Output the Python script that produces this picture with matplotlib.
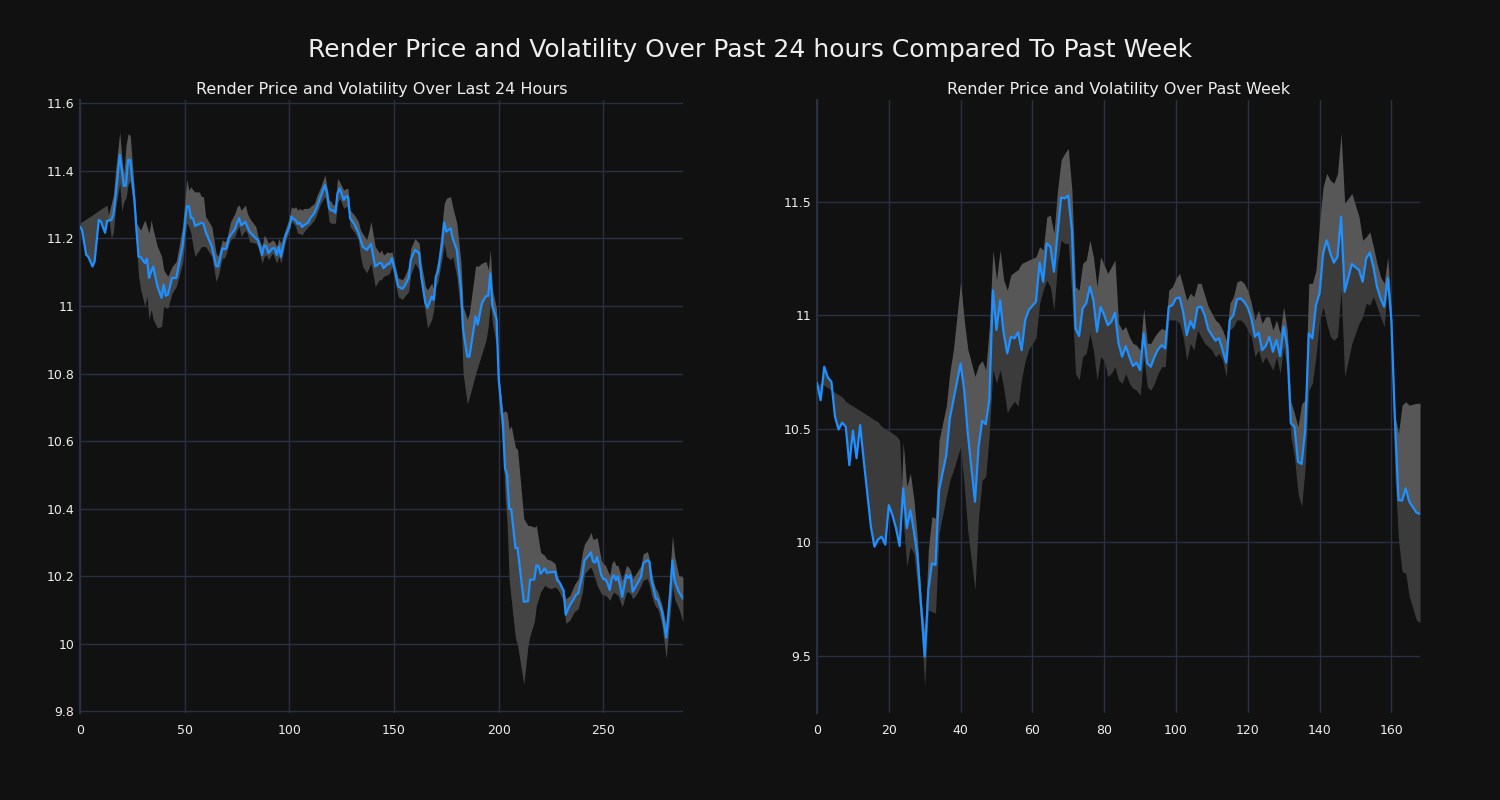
import matplotlib
matplotlib.use("Agg")
import matplotlib.pyplot as plt

# ---------------- Data: last 24 hours (5-minute steps) ----------------
day_x = [0, 1, 3, 4, 6, 7, 9, 10, 12, 13, 15, 16, 17, 19, 20, 21, 22, 23, 24, 26,
         27, 28, 29, 31, 32, 33, 34, 35, 37, 39, 40, 41, 42, 44, 46, 49, 51, 52, 53, 54,
         55, 57, 58, 59, 60, 63, 65, 66, 68, 69, 70, 71, 72, 74, 75, 76, 77, 79, 80, 81,
         84, 85, 87, 88, 89, 90, 92, 93, 94, 95, 96, 98, 100, 101, 102, 103, 104, 105, 106, 107,
         109, 110, 112, 113, 115, 117, 118, 119, 120, 121, 122, 123, 124, 126, 127, 128, 129, 131, 133, 134,
         135, 137, 139, 141, 143, 144, 145, 147, 148, 149, 151, 152, 154, 155, 157, 158, 160, 162, 163, 165,
         166, 168, 169, 170, 171, 173, 174, 175, 177, 178, 180, 182, 183, 185, 186, 189, 190, 192, 194, 195,
         196, 197, 199, 200, 202, 203, 204, 205, 206, 208, 209, 212, 214, 215, 217, 218, 219, 220, 222, 223,
         225, 227, 228, 229, 231, 232, 234, 236, 237, 238, 240, 241, 243, 244, 245, 246, 247, 249, 250, 251,
         252, 253, 254, 255, 256, 257, 259, 261, 262, 263, 264, 266, 268, 269, 271, 272, 273, 274, 275, 276,
         278, 280, 282, 283, 284, 286, 288]
day_price = [11.235, 11.225, 11.151, 11.146, 11.117, 11.132, 11.255, 11.250, 11.217, 11.252, 11.255, 11.270, 11.324, 11.447, 11.400, 11.355, 11.357, 11.432, 11.432, 11.314,
             11.225, 11.146, 11.145, 11.127, 11.140, 11.083, 11.102, 11.117, 11.058, 11.024, 11.063, 11.030, 11.034, 11.083, 11.083, 11.176, 11.294, 11.296, 11.260, 11.260,
             11.237, 11.243, 11.247, 11.243, 11.220, 11.176, 11.119, 11.117, 11.171, 11.168, 11.171, 11.200, 11.210, 11.227, 11.245, 11.260, 11.239, 11.249, 11.234, 11.220,
             11.200, 11.195, 11.151, 11.180, 11.176, 11.156, 11.171, 11.171, 11.151, 11.176, 11.146, 11.205, 11.234, 11.265, 11.257, 11.255, 11.243, 11.247, 11.234, 11.239,
             11.247, 11.260, 11.275, 11.290, 11.324, 11.358, 11.334, 11.290, 11.283, 11.283, 11.276, 11.334, 11.348, 11.314, 11.324, 11.324, 11.260, 11.243, 11.217, 11.196,
             11.176, 11.166, 11.184, 11.117, 11.127, 11.127, 11.112, 11.125, 11.125, 11.142, 11.088, 11.058, 11.051, 11.058, 11.083, 11.137, 11.166, 11.156, 11.088, 11.009,
             10.995, 11.028, 11.018, 11.088, 11.103, 11.186, 11.247, 11.220, 11.230, 11.200, 11.166, 11.048, 10.930, 10.850, 10.850, 10.969, 10.945, 11.009, 11.030, 11.030,
             11.097, 11.000, 10.960, 10.783, 10.655, 10.520, 10.500, 10.399, 10.398, 10.283, 10.284, 10.124, 10.126, 10.190, 10.190, 10.232, 10.230, 10.207, 10.223, 10.210,
             10.212, 10.213, 10.187, 10.182, 10.157, 10.086, 10.114, 10.134, 10.146, 10.149, 10.203, 10.247, 10.261, 10.271, 10.244, 10.240, 10.257, 10.203, 10.191, 10.191,
             10.179, 10.159, 10.193, 10.203, 10.188, 10.200, 10.139, 10.203, 10.195, 10.203, 10.154, 10.176, 10.198, 10.238, 10.247, 10.243, 10.185, 10.163, 10.134, 10.131,
             10.095, 10.018, 10.154, 10.247, 10.188, 10.154, 10.134]
day_upper = [11.235, 11.225, 11.151, 11.146, 11.117, 11.132, 11.255, 11.250, 11.217, 11.252, 11.304, 11.330, 11.400, 11.515, 11.440, 11.390, 11.476, 11.510, 11.505, 11.343,
             11.245, 11.235, 11.225, 11.255, 11.235, 11.215, 11.255, 11.225, 11.176, 11.147, 11.107, 11.097, 11.088, 11.117, 11.132, 11.235, 11.375, 11.343, 11.353, 11.343,
             11.338, 11.338, 11.324, 11.324, 11.265, 11.235, 11.157, 11.147, 11.196, 11.190, 11.196, 11.225, 11.250, 11.274, 11.294, 11.299, 11.284, 11.299, 11.274, 11.260,
             11.235, 11.206, 11.176, 11.210, 11.200, 11.186, 11.196, 11.190, 11.176, 11.200, 11.186, 11.225, 11.260, 11.294, 11.289, 11.294, 11.284, 11.289, 11.284, 11.289,
             11.289, 11.294, 11.304, 11.324, 11.353, 11.388, 11.353, 11.314, 11.309, 11.299, 11.299, 11.378, 11.368, 11.343, 11.348, 11.348, 11.284, 11.270, 11.250, 11.225,
             11.215, 11.196, 11.250, 11.176, 11.157, 11.166, 11.151, 11.161, 11.157, 11.161, 11.107, 11.083, 11.078, 11.088, 11.117, 11.171, 11.200, 11.186, 11.127, 11.058,
             11.048, 11.068, 11.048, 11.107, 11.137, 11.245, 11.304, 11.319, 11.324, 11.294, 11.245, 11.127, 10.999, 10.960, 10.980, 11.120, 11.117, 11.127, 11.132, 11.107,
             11.166, 11.048, 10.990, 10.800, 10.684, 10.690, 10.684, 10.635, 10.645, 10.581, 10.576, 10.370, 10.350, 10.350, 10.345, 10.350, 10.310, 10.271, 10.261, 10.251,
             10.247, 10.237, 10.202, 10.187, 10.163, 10.133, 10.143, 10.173, 10.183, 10.193, 10.271, 10.296, 10.315, 10.330, 10.310, 10.310, 10.315, 10.247, 10.237, 10.232,
             10.217, 10.202, 10.237, 10.247, 10.232, 10.232, 10.187, 10.232, 10.227, 10.217, 10.193, 10.212, 10.232, 10.266, 10.273, 10.251, 10.212, 10.183, 10.163, 10.153,
             10.114, 10.055, 10.232, 10.320, 10.261, 10.202, 10.197]
day_lower = [11.245, 11.250, 11.258, 11.262, 11.270, 11.274, 11.283, 11.287, 11.295, 11.298, 11.200, 11.220, 11.290, 11.363, 11.280, 11.310, 11.320, 11.360, 11.370, 11.280,
             11.176, 11.088, 11.048, 10.999, 11.030, 10.960, 10.990, 10.960, 10.935, 10.940, 11.000, 10.994, 10.994, 11.038, 11.058, 11.127, 11.245, 11.235, 11.215, 11.176,
             11.147, 11.166, 11.176, 11.176, 11.176, 11.147, 11.073, 11.088, 11.142, 11.142, 11.157, 11.181, 11.196, 11.206, 11.225, 11.235, 11.206, 11.225, 11.215, 11.190,
             11.186, 11.176, 11.127, 11.147, 11.151, 11.137, 11.157, 11.142, 11.127, 11.147, 11.127, 11.186, 11.225, 11.250, 11.245, 11.235, 11.215, 11.215, 11.210, 11.220,
             11.235, 11.240, 11.255, 11.270, 11.304, 11.324, 11.299, 11.250, 11.245, 11.245, 11.245, 11.304, 11.319, 11.289, 11.294, 11.294, 11.235, 11.220, 11.196, 11.147,
             11.117, 11.098, 11.127, 11.058, 11.078, 11.078, 11.088, 11.093, 11.098, 11.117, 11.058, 11.028, 11.019, 11.028, 11.043, 11.093, 11.127, 11.107, 11.058, 10.980,
             10.935, 10.960, 10.990, 11.058, 11.073, 11.142, 11.186, 11.147, 11.137, 11.147, 11.088, 10.970, 10.800, 10.710, 10.730, 10.800, 10.820, 10.860, 10.900, 10.940,
             11.009, 10.950, 10.880, 10.720, 10.586, 10.440, 10.360, 10.190, 10.130, 10.016, 9.996, 9.880, 9.996, 10.025, 10.065, 10.114, 10.133, 10.153, 10.173, 10.168,
             10.163, 10.168, 10.163, 10.153, 10.124, 10.060, 10.070, 10.094, 10.099, 10.104, 10.153, 10.207, 10.222, 10.227, 10.212, 10.193, 10.173, 10.148, 10.145, 10.143,
             10.138, 10.128, 10.143, 10.153, 10.148, 10.143, 10.109, 10.153, 10.153, 10.148, 10.133, 10.148, 10.173, 10.188, 10.193, 10.173, 10.143, 10.124, 10.109, 10.104,
             10.055, 9.956, 10.094, 10.173, 10.133, 10.104, 10.065]

# ---------------- Data: past week (hourly steps) ----------------
week_x = [0, 1, 2, 3, 4, 5, 6, 7, 8, 9, 10, 11, 12, 13, 15, 16, 17, 18, 19, 20,
          21, 22, 23, 24, 25, 26, 27, 28, 29, 30, 31, 32, 33, 34, 36, 37, 38, 40, 41, 42,
          44, 45, 46, 47, 48, 49, 50, 51, 52, 53, 54, 55, 56, 57, 58, 59, 61, 62, 63, 64,
          65, 66, 67, 68, 69, 70, 71, 72, 73, 74, 75, 76, 77, 78, 79, 80, 81, 82, 83, 84,
          85, 86, 87, 88, 89, 90, 91, 92, 93, 94, 95, 96, 97, 98, 99, 100, 101, 102, 103, 104,
          105, 106, 107, 108, 109, 110, 111, 112, 113, 114, 115, 116, 117, 118, 119, 120, 121, 122, 123, 124,
          125, 126, 127, 128, 129, 130, 131, 132, 133, 134, 135, 136, 137, 138, 139, 140, 141, 142, 143, 144,
          145, 146, 147, 149, 151, 152, 153, 154, 155, 156, 157, 158, 159, 160, 161, 162, 163, 164, 165, 167,
          168]
week_price = [10.700, 10.626, 10.773, 10.726, 10.707, 10.553, 10.497, 10.527, 10.509, 10.340, 10.492, 10.370, 10.516, 10.362, 10.069, 9.981, 10.013, 10.025, 9.990, 10.164,
              10.120, 10.062, 9.984, 10.238, 10.062, 10.142, 10.047, 9.937, 9.717, 9.497, 9.790, 9.908, 9.900, 10.230, 10.384, 10.546, 10.627, 10.788, 10.670, 10.480,
              10.179, 10.420, 10.535, 10.520, 10.627, 11.110, 10.935, 11.066, 10.920, 10.832, 10.905, 10.898, 10.924, 10.846, 10.979, 11.023, 11.059, 11.231, 11.147, 11.316,
              11.301, 11.191, 11.360, 11.518, 11.514, 11.526, 11.374, 10.942, 10.908, 11.030, 11.052, 11.125, 11.066, 10.927, 11.037, 11.000, 10.956, 10.971, 11.011, 10.876,
              10.817, 10.864, 10.817, 10.776, 10.791, 10.758, 10.920, 10.788, 10.773, 10.817, 10.849, 10.868, 10.854, 11.037, 11.044, 11.074, 11.078, 11.015, 10.912, 10.974,
              10.942, 11.034, 11.037, 11.000, 10.937, 10.912, 10.888, 10.898, 10.846, 10.791, 10.979, 11.000, 11.069, 11.074, 11.059, 11.034, 10.986, 10.905, 10.923, 10.846,
              10.864, 10.905, 10.839, 10.891, 10.820, 10.949, 10.861, 10.524, 10.509, 10.355, 10.345, 10.494, 10.920, 10.898, 11.044, 11.096, 11.272, 11.330, 11.272, 11.231,
              11.257, 11.433, 11.103, 11.225, 11.198, 11.147, 11.250, 11.275, 11.213, 11.125, 11.074, 11.037, 11.162, 10.980, 10.538, 10.186, 10.184, 10.238, 10.179, 10.131,
              10.125]
week_upper = [10.700, 10.626, 10.773, 10.726, 10.707, 10.553, 10.497, 10.527, 10.509, 10.340, 10.492, 10.370, 10.516, 10.362, 10.069, 9.981, 10.013, 10.025, 9.990, 10.164,
              10.120, 10.062, 9.984, 10.440, 10.245, 10.304, 10.186, 10.010, 9.750, 9.600, 9.966, 10.113, 10.106, 10.450, 10.600, 10.750, 10.850, 11.147, 10.980, 10.850,
              10.730, 10.780, 10.800, 10.760, 10.950, 11.287, 11.155, 11.287, 11.155, 11.110, 11.177, 11.190, 11.200, 11.228, 11.235, 11.243, 11.257, 11.301, 11.287, 11.433,
              11.440, 11.360, 11.550, 11.683, 11.712, 11.734, 11.550, 11.125, 11.110, 11.228, 11.243, 11.330, 11.257, 11.125, 11.257, 11.220, 11.184, 11.213, 11.243, 10.964,
              10.934, 10.950, 10.905, 10.876, 10.868, 10.846, 11.030, 10.876, 10.876, 10.905, 10.927, 10.942, 10.934, 11.110, 11.125, 11.162, 11.184, 11.125, 11.066, 11.096,
              11.081, 11.140, 11.140, 11.088, 11.037, 11.008, 10.979, 10.964, 10.934, 10.890, 11.052, 11.081, 11.147, 11.154, 11.140, 11.110, 11.052, 10.979, 11.022, 10.964,
              10.993, 10.993, 10.934, 10.979, 10.920, 11.037, 10.934, 10.620, 10.568, 10.509, 10.610, 10.626, 11.140, 11.140, 11.198, 11.404, 11.565, 11.624, 11.594, 11.580,
              11.624, 11.800, 11.492, 11.536, 11.433, 11.330, 11.345, 11.367, 11.301, 11.228, 11.169, 11.140, 11.257, 11.030, 10.560, 10.480, 10.605, 10.619, 10.604, 10.612,
              10.612]
week_lower = [10.690, 10.700, 10.690, 10.680, 10.670, 10.660, 10.650, 10.640, 10.620, 10.610, 10.600, 10.590, 10.580, 10.570, 10.550, 10.540, 10.530, 10.510, 10.500, 10.490,
              10.480, 10.470, 10.450, 10.100, 9.893, 9.980, 9.950, 9.805, 9.629, 9.365, 9.702, 9.695, 9.688, 10.040, 10.200, 10.274, 10.318, 10.421, 10.250, 10.050,
              9.790, 10.113, 10.274, 10.289, 10.480, 10.760, 10.700, 10.760, 10.680, 10.570, 10.600, 10.620, 10.600, 10.720, 10.800, 10.850, 10.900, 11.052, 11.110, 11.154,
              11.125, 11.022, 11.228, 11.330, 11.316, 11.316, 11.081, 10.744, 10.714, 10.817, 10.832, 10.920, 10.846, 10.714, 10.817, 10.800, 10.729, 10.744, 10.773, 10.714,
              10.700, 10.744, 10.700, 10.678, 10.670, 10.648, 10.817, 10.685, 10.670, 10.700, 10.744, 10.773, 10.773, 10.979, 10.979, 10.979, 10.964, 10.905, 10.802, 10.876,
              10.846, 10.934, 10.905, 10.876, 10.861, 10.846, 10.817, 10.832, 10.802, 10.729, 10.934, 10.949, 10.979, 10.979, 10.964, 10.934, 10.905, 10.817, 10.846, 10.788,
              10.817, 10.788, 10.758, 10.817, 10.744, 10.861, 10.758, 10.465, 10.377, 10.216, 10.157, 10.330, 10.670, 10.700, 10.817, 10.979, 11.037, 10.964, 10.905, 10.890,
              10.905, 11.110, 10.729, 10.876, 10.964, 10.993, 11.052, 11.045, 11.081, 11.037, 10.993, 10.949, 11.140, 10.900, 10.300, 10.010, 9.871, 9.864, 9.761, 9.658,
              9.647]

day_ticks = [0, 50, 100, 150, 200, 250]
day_yticks = [9.8, 10.0, 10.2, 10.4, 10.6, 10.8, 11.0, 11.2, 11.4, 11.6]
day_ylabels = ["9.8", "10", "10.2", "10.4", "10.6", "10.8", "11", "11.2", "11.4", "11.6"]
week_ticks = [0, 20, 40, 60, 80, 100, 120, 140, 160]
week_yticks = [9.5, 10.0, 10.5, 11.0, 11.5]
week_ylabels = ["9.5", "10", "10.5", "11", "11.5"]

suptitle = "Render Price and Volatility Over Past 24 hours Compared To Past Week"
title_day = "Render Price and Volatility Over Last 24 Hours"
title_week = "Render Price and Volatility Over Past Week"

# ---------------- Styling ----------------
BG = "#111111"
GRID = "#283041"
LINE = "#1e90ff"
LIGHT = "#575757"
TEXT = "#eeeeee"

fig = plt.figure(figsize=(15, 8), dpi=100, facecolor=BG)
ax1 = fig.add_axes([0.0533, 0.10875, 0.402, 0.76625])
ax2 = fig.add_axes([0.5447, 0.10875, 0.402, 0.76625])


def draw(ax, x, price, upper, lower, xticks, yticks, ylabels, xlim, ylim, title, dark):
    ax.set_facecolor(BG)
    ax.fill_between(x, lower, price, color=dark, linewidth=0, zorder=2)
    ax.fill_between(x, price, upper, color=LIGHT, linewidth=0, zorder=2)
    ax.plot(x, price, color=LINE, linewidth=1.6, zorder=3)
    ax.set_xlim(*xlim)
    ax.set_ylim(*ylim)
    ax.set_xticks(xticks)
    ax.set_yticks(yticks)
    ax.set_yticklabels(ylabels)
    ax.grid(True, color=GRID, linewidth=1.0, zorder=0)
    ax.set_axisbelow(True)
    for s in ["top", "right", "bottom"]:
        ax.spines[s].set_visible(False)
    ax.spines["left"].set_color(GRID)
    ax.spines["left"].set_linewidth(1.5)
    ax.tick_params(axis="both", length=0, labelsize=9, colors=TEXT)
    ax.tick_params(axis="x", pad=8)
    ax.tick_params(axis="y", pad=4)
    ax.set_title(title, color=TEXT, fontsize=11.5, pad=4)


draw(ax1, day_x, day_price, day_upper, day_lower, day_ticks, day_yticks, day_ylabels,
     (0, 288), (9.795, 11.61), title_day, "#444444")
draw(ax2, week_x, week_price, week_upper, week_lower, week_ticks, week_yticks, week_ylabels,
     (0, 168), (9.249, 11.947), title_week, "#3b3b3b")

fig.suptitle(suptitle, color=TEXT, fontsize=18, y=0.9375, va="center")

fig.savefig("out.png", dpi=100, facecolor=BG)
